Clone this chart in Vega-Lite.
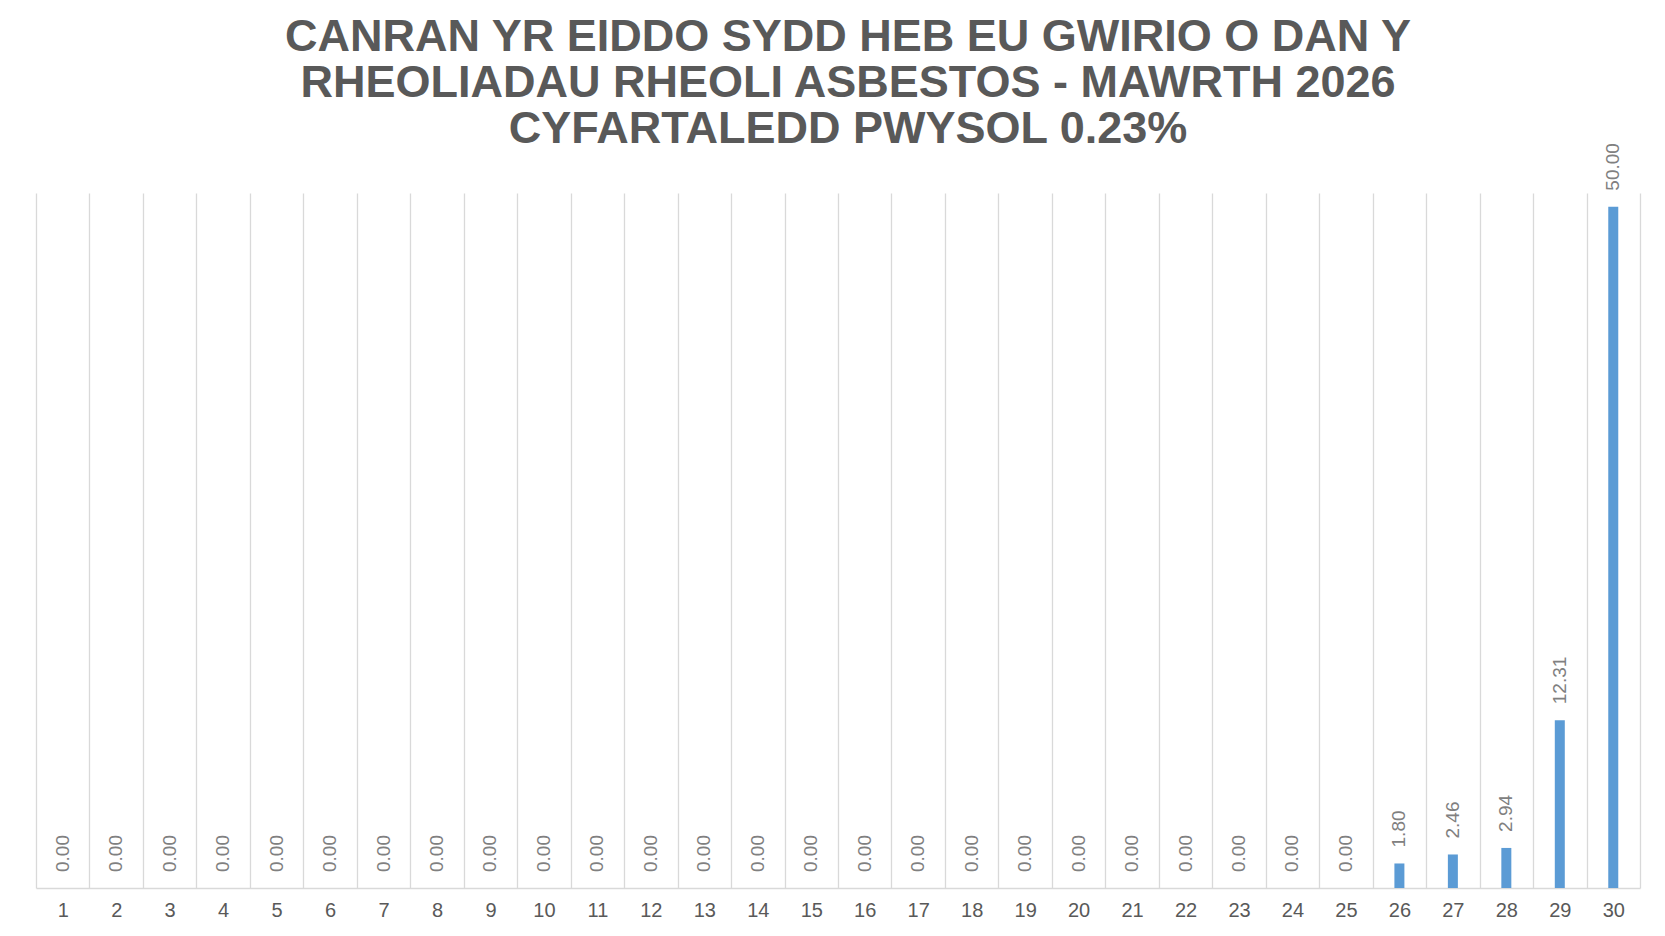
{
  "$schema": "https://vega.github.io/schema/vega-lite/v6.json",
  "width": 1604,
  "height": 695,
  "autosize": {"type": "none"},
  "padding": {"left": 36, "top": 193, "right": 25, "bottom": 48},
  "background": "white",
  "config": {"view": {"stroke": null}, "font": "Liberation Sans"},
  "title": {
    "text": ["CANRAN YR EIDDO SYDD HEB EU GWIRIO O DAN Y", "RHEOLIADAU RHEOLI ASBESTOS - MAWRTH 2026", "CYFARTALEDD PWYSOL 0.23%"],
    "anchor": "middle",
    "frame": "group",
    "font": "Liberation Sans",
    "fontSize": 45,
    "fontWeight": "bold",
    "color": "#595959",
    "lineHeight": 46,
    "offset": -9,
    "dx": 10
  },
  "data": {
    "values": [
      {"n": 1, "v": 0}, {"n": 2, "v": 0}, {"n": 3, "v": 0}, {"n": 4, "v": 0}, {"n": 5, "v": 0},
      {"n": 6, "v": 0}, {"n": 7, "v": 0}, {"n": 8, "v": 0}, {"n": 9, "v": 0}, {"n": 10, "v": 0},
      {"n": 11, "v": 0}, {"n": 12, "v": 0}, {"n": 13, "v": 0}, {"n": 14, "v": 0}, {"n": 15, "v": 0},
      {"n": 16, "v": 0}, {"n": 17, "v": 0}, {"n": 18, "v": 0}, {"n": 19, "v": 0}, {"n": 20, "v": 0},
      {"n": 21, "v": 0}, {"n": 22, "v": 0}, {"n": 23, "v": 0}, {"n": 24, "v": 0}, {"n": 25, "v": 0},
      {"n": 26, "v": 1.80}, {"n": 27, "v": 2.46}, {"n": 28, "v": 2.94}, {"n": 29, "v": 12.31}, {"n": 30, "v": 50.00}
    ]
  },
  "resolve": {"axis": {"x": "independent"}, "scale": {"x": "shared", "y": "shared"}},
  "layer": [
    {
      "mark": {"type": "bar", "size": 10, "color": "#5b9bd5"},
      "encoding": {
        "x": {
          "field": "n", "type": "quantitative",
          "scale": {"domain": [0.5, 30.5], "nice": false, "zero": false, "padding": 0},
          "axis": {
            "orient": "bottom",
            "values": [0.5,1.5,2.5,3.5,4.5,5.5,6.5,7.5,8.5,9.5,10.5,11.5,12.5,13.5,14.5,15.5,16.5,17.5,18.5,19.5,20.5,21.5,22.5,23.5,24.5,25.5,26.5,27.5,28.5,29.5,30.5],
            "labels": false, "ticks": false, "title": null,
            "grid": true, "gridColor": "#d9d9d9", "gridWidth": 1.3,
            "domain": true, "domainColor": "#d9d9d9", "domainWidth": 1.3
          }
        },
        "y": {"field": "v", "type": "quantitative", "scale": {"domain": [0, 51], "nice": false}, "axis": null}
      }
    },
    {
      "mark": {"type": "text", "angle": 270, "align": "left", "baseline": "middle", "dx": 16, "fontSize": 19, "color": "#808080", "font": "Liberation Sans"},
      "encoding": {
        "x": {
          "field": "n", "type": "quantitative",
          "axis": {
            "orient": "bottom",
            "values": [1,2,3,4,5,6,7,8,9,10,11,12,13,14,15,16,17,18,19,20,21,22,23,24,25,26,27,28,29,30],
            "labels": true, "ticks": false, "title": null, "grid": false, "domain": false,
            "labelFontSize": 20, "labelColor": "#595959", "labelPadding": 12, "labelFont": "Liberation Sans"
          }
        },
        "y": {"field": "v", "type": "quantitative"},
        "text": {"field": "v", "type": "quantitative", "format": ".2f"}
      }
    }
  ]
}
